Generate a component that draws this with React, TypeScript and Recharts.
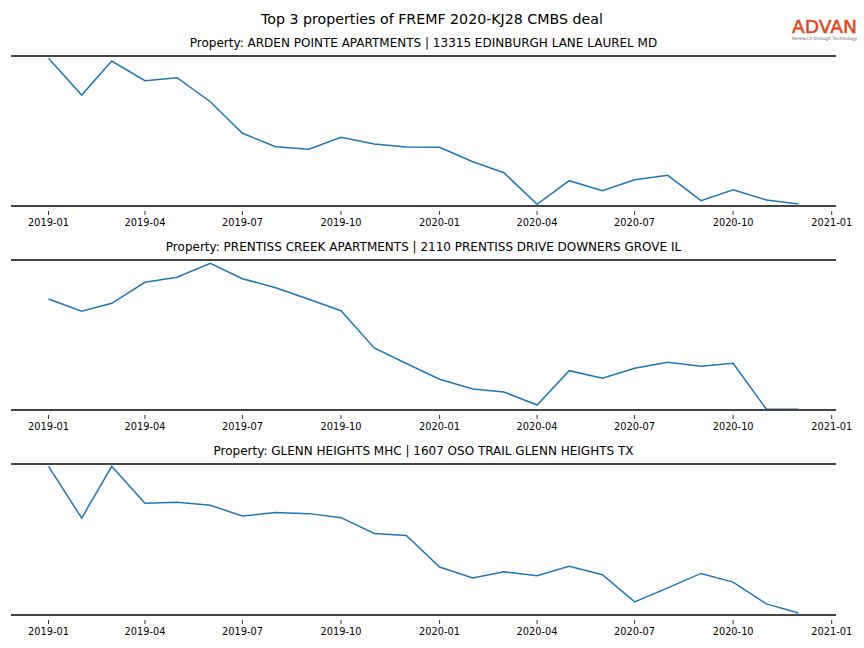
import { LineChart, Line, XAxis, YAxis, ReferenceLine } from "recharts";

const months = [
  "2019-01", "2019-02", "2019-03", "2019-04", "2019-05", "2019-06",
  "2019-07", "2019-08", "2019-09", "2019-10", "2019-11", "2019-12",
  "2020-01", "2020-02", "2020-03", "2020-04", "2020-05", "2020-06",
  "2020-07", "2020-08", "2020-09", "2020-10", "2020-11", "2020-12",
];

const tickLabels = [
  "2019-01", "2019-04", "2019-07", "2019-10",
  "2020-01", "2020-04", "2020-07", "2020-10", "2021-01",
];

// relative activity index per property (y axis is hidden in the source)
const ardenPointe = [
  147.7, 111, 145, 125.3, 128.3, 104.3, 72.7, 59.3, 56.7, 68.7, 62, 59,
  58.7, 44.3, 33.3, 1.7, 25.3, 15.3, 26.3, 30.7, 5.3, 16.3, 6, 2,
];
const prentissCreek = [
  111, 98.7, 106.7, 127.7, 132.7, 146.7, 131.3, 122.3, 110.7, 99.3, 62, 46.5,
  30.7, 21, 18, 5, 39.3, 31.7, 41.7, 47.7, 43.7, 46.7, 0.7, 0.7,
];
const glennHeights = [
  147.7, 96.3, 147.7, 111, 112, 109, 98.3, 101.7, 100.7, 96.7, 81, 79,
  47.7, 36.7, 43, 39, 48.3, 40, 13, 26.9, 41.3, 32.7, 11, 2,
];

const mainTitle = "Top 3 properties of FREMF 2020-KJ28 CMBS deal";
const subTitles = [
  "Property: ARDEN POINTE APARTMENTS | 13315 EDINBURGH LANE LAUREL MD",
  "Property: PRENTISS CREEK APARTMENTS | 2110 PRENTISS DRIVE DOWNERS GROVE IL",
  "Property: GLENN HEIGHTS MHC | 1607 OSO TRAIL GLENN HEIGHTS TX",
];
const seriesList = [ardenPointe, prentissCreek, glennHeights];

const FONT = "DejaVu Sans, sans-serif";
const DAY = 86400000;

const toTime = (m: string) => {
  const [y, mo] = m.split("-").map(Number);
  return Date.UTC(y, mo - 1, 1);
};

const xStart = toTime(months[0]) - 35 * DAY;
const xEnd = toTime(months[months.length - 1]) + 35 * DAY;
const tickTimes = tickLabels.map(toTime);

function DateTick({ x, y, payload }: any) {
  const d = new Date(payload.value);
  const label = `${d.getUTCFullYear()}-${String(d.getUTCMonth() + 1).padStart(2, "0")}`;
  return (
    <g>
      <line x1={x} x2={x} y1={y + 5} y2={y + 9} stroke="#000" strokeWidth={0.8} />
      <text x={x} y={y + 20} textAnchor="middle" fontSize={9.8} fill="#000" fontFamily={FONT}>
        {label}
      </text>
    </g>
  );
}

function PropertyPanel({ values, top, height }: { values: number[]; top: number; height: number }) {
  const data = months.map((m, i) => ({ t: toTime(m), v: values[i] }));
  return (
    <div style={{ position: "absolute", left: 0, top }}>
      <LineChart
        width={864}
        height={height}
        data={data}
        margin={{ top: 5, right: 28, bottom: 0, left: 11 }}
      >
        <XAxis
          dataKey="t"
          type="number"
          domain={[xStart, xEnd]}
          allowDataOverflow
          ticks={tickTimes}
          interval={0}
          axisLine={false}
          tickLine={false}
          tickSize={0}
          tickMargin={0}
          height={30}
          tick={<DateTick />}
        />
        <YAxis hide domain={[0, 150]} allowDataOverflow />
        <Line
          type="linear"
          dataKey="v"
          stroke="#1f77b4"
          strokeWidth={1.5}
          dot={false}
          isAnimationActive={false}
        />
        <ReferenceLine y={150} stroke="#454545" strokeWidth={1.8} />
        <ReferenceLine y={0} stroke="#454545" strokeWidth={1.8} />
      </LineChart>
    </div>
  );
}

const panelTops = [51, 255, 459];
const panelHeights = [185, 185, 186];
const subTitleBaselines = [47, 251, 455];

export default function App() {
  return (
    <div
      style={{
        position: "absolute",
        left: 0,
        top: 0,
        width: 864,
        height: 648,
        background: "#fff",
        overflow: "hidden",
      }}
    >
      {seriesList.map((s, i) => (
        <PropertyPanel key={i} values={s} top={panelTops[i]} height={panelHeights[i]} />
      ))}
      <svg
        width={864}
        height={648}
        style={{ position: "absolute", left: 0, top: 0, pointerEvents: "none" }}
      >
        <text x={432} y={24} textAnchor="middle" fontSize={14.2} fill="#000" fontFamily={FONT}>
          {mainTitle}
        </text>
        {subTitles.map((t, i) => (
          <text
            key={i}
            x={423.5}
            y={subTitleBaselines[i]}
            textAnchor="middle"
            fontSize={12}
            fill="#000"
            fontFamily={FONT}
          >
            {t}
          </text>
        ))}
        <text
          x={792}
          y={33}
          fontSize={18}
          fill="#e0481f"
          stroke="#e0481f"
          strokeWidth={0.5}
          fontFamily={FONT}
          textLength={65}
          lengthAdjust="spacingAndGlyphs"
        >
          ADVAN
        </text>
        <text
          x={792}
          y={40}
          fontSize={4.5}
          fill="#666"
          fontFamily={FONT}
          textLength={65}
          lengthAdjust="spacingAndGlyphs"
        >
          Research through Technology
        </text>
      </svg>
    </div>
  );
}
